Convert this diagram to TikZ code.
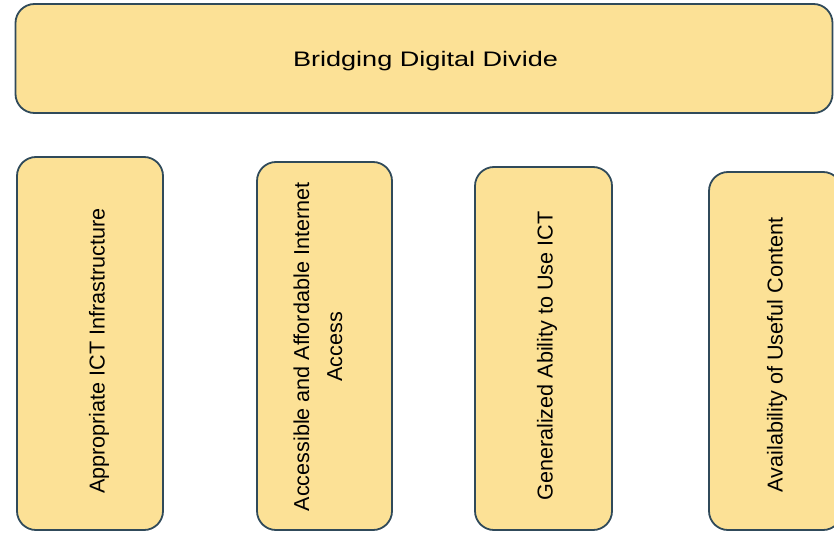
\documentclass[tikz,border=0pt]{standalone}
\usepackage{fontspec}
\usepackage{graphicx}
\setmainfont{Liberation Sans}
\definecolor{boxfill}{RGB}{252,225,150}
\definecolor{boxline}{RGB}{48,74,90}
\begin{document}
\begin{tikzpicture}[x=1pt,y=-1pt,
  box/.style={draw=boxline, fill=boxfill, line width=1.8pt, rounded corners=19pt, inner sep=0pt},
  vtext/.style={rotate=90, font=\fontsize{21.6}{33}\selectfont, align=center, inner sep=0pt, text=black},
  htext/.style={font=\fontsize{21}{25}\selectfont, inner sep=0pt, text=black}]
\useasboundingbox (0,0) rectangle (834,532);
\clip (0,0) rectangle (834,532);
\node[box, minimum width=817pt, minimum height=109pt] (top) at (424,58.5) {};
\node[htext] (toptext) at (425.5,61) {\scalebox{1.29}[1]{Bridging Digital Divide}};
\node[box, minimum width=146pt, minimum height=373pt] (b1) at (90,343.5) {};
\node[box, minimum width=135pt, minimum height=368pt] (b2) at (324.5,346) {};
\node[box, minimum width=137pt, minimum height=363pt] (b3) at (543.5,348.5) {};
\node[box, minimum width=133pt, minimum height=358pt] (b4) at (775.5,351) {};
\node[vtext] (t1) at (99,351) {Appropriate ICT Infrastructure};
\node[vtext] (t2) at (318,347) {Accessible and Affordable Internet\\Access};
\node[vtext] (t3) at (547,356) {Generalized Ability to Use ICT};
\node[vtext] (t4) at (777,355) {Availability of Useful Content};
\end{tikzpicture}
\end{document}
